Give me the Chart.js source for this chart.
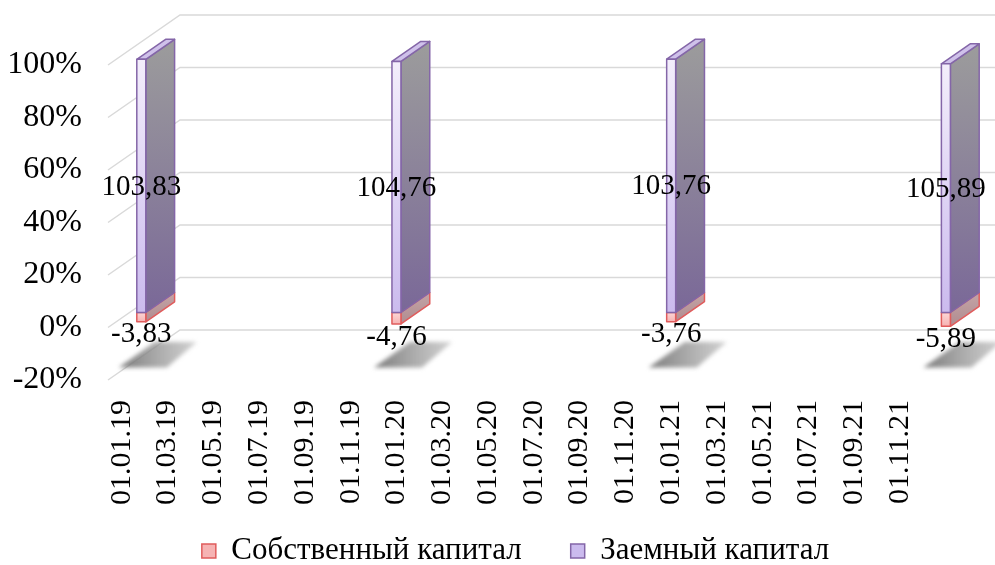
<!DOCTYPE html>
<html>
<head>
<meta charset="utf-8">
<script src="https://cdn.jsdelivr.net/npm/chart.js@4.4.0/dist/chart.umd.min.js"></script>
<style>
  html, body { margin: 0; padding: 0; background: #fff; }
  #wrap { width: 995px; height: 565px; }
</style>
</head>
<body>
<div id="wrap"><canvas id="chart"></canvas></div>
<script>
const barDates = ['01.01.19', '01.01.20', '01.01.21', '01.01.22'];
const ownCapital = [-3.83, -4.76, -3.76, -5.89];
const borrowedCapital = [103.83, 104.76, 103.76, 105.89];
const seriesNames = ['Собственный капитал', 'Заемный капитал'];
const axisDates = [
  '01.01.19', '01.03.19', '01.05.19', '01.07.19', '01.09.19', '01.11.19',
  '01.01.20', '01.03.20', '01.05.20', '01.07.20', '01.09.20', '01.11.20',
  '01.01.21', '01.03.21', '01.05.21', '01.07.21', '01.09.21', '01.11.21', '01.01.22',
];
const yTicks = [-20, 0, 20, 40, 60, 80, 100];

const FONT = "'Liberation Serif', 'Times New Roman', serif";
const GRID = '#d9d9d9';
const DEPTH = { dx: 72, dy: -50 };
const BAR_FRONT = 0.3;
const BAR_BACK = 0.7;
const FRONT_BOTTOM = 380;
const X_AXIS_H = 130;
const LEGEND_FONT = 31;
const LEGEND_PAD = 49;
const LEGEND_MID = 551;
const LEGEND_H = LEGEND_FONT + LEGEND_PAD + 10;
const PAD_BOTTOM = 565 - FRONT_BOTTOM - X_AXIS_H - LEGEND_H;

const SKIN = [
  { front: ['#fcd6d6', '#f6b3b3'], side: ['#c4a4a6', '#b08c90'], top: '#f2b4b4', edge: '#e05c5c' },
  { front: ['#f3eefb', '#cbbbee'], side: ['#9c9c9c', '#7a6898'], top: '#cfc1ea', edge: '#8466a8' },
];

const total = (i) => Math.abs(ownCapital[i]) + Math.abs(borrowedCapital[i]);
const asPoints = (vals) => vals.map((v, i) => ({ x: axisDates.indexOf(barDates[i]), y: (v / total(i)) * 100 }));
const fmt = (v) => v.toFixed(2).replace('.', ',');

function vGrad(ctx, y0, y1, c) {
  const g = ctx.createLinearGradient(0, y0, 0, y1);
  g.addColorStop(0, c[0]);
  g.addColorStop(1, c[1]);
  return g;
}

function poly(ctx, pts, fill) {
  ctx.beginPath();
  ctx.moveTo(pts[0][0], pts[0][1]);
  pts.slice(1).forEach((p) => ctx.lineTo(p[0], p[1]));
  ctx.closePath();
  ctx.fillStyle = fill;
  ctx.fill();
  ctx.stroke();
}

// front face of a bar, pushed back to its depth and kept off the side wall
function faceBox(chart, el) {
  const a = chart.chartArea;
  const w = el.width;
  const left = Math.max(el.x - w / 2, a.left + DEPTH.dx * BAR_FRONT + w * 0.8);
  const sy = DEPTH.dy * BAR_FRONT;
  return { left, right: left + w, top: Math.min(el.y, el.base) + sy, bottom: Math.max(el.y, el.base) + sy };
}

function drawBlock(ctx, b, skin, withTop) {
  const ddx = DEPTH.dx * (BAR_BACK - BAR_FRONT);
  const ddy = DEPTH.dy * (BAR_BACK - BAR_FRONT);
  ctx.lineWidth = 1.5;
  ctx.lineJoin = 'round';
  ctx.strokeStyle = skin.edge;
  poly(ctx, [[b.right, b.top], [b.right + ddx, b.top + ddy], [b.right + ddx, b.bottom + ddy], [b.right, b.bottom]],
    vGrad(ctx, b.top + ddy, b.bottom, skin.side));
  if (withTop) {
    poly(ctx, [[b.left, b.top], [b.left + ddx, b.top + ddy], [b.right + ddx, b.top + ddy], [b.right, b.top]], skin.top);
  }
  poly(ctx, [[b.left, b.top], [b.right, b.top], [b.right, b.bottom], [b.left, b.bottom]],
    vGrad(ctx, b.top, b.bottom, skin.front));
}

const depth3d = {
  id: 'depth3d',
  afterLayout(chart) {
    // the tall rotated date labels need room, so the legend row is moved up over their box
    const lg = chart.legend;
    if (!lg) return;
    const shift = LEGEND_MID - LEGEND_FONT / 2 - (lg.top + LEGEND_PAD);
    lg.top += shift;
    lg.bottom += shift;
  },
  beforeDatasetsDraw(chart) {
    const { ctx, chartArea: a, scales: { y } } = chart;
    ctx.save();
    ctx.strokeStyle = GRID;
    ctx.lineWidth = 1.5;
    yTicks.forEach((v) => {
      const py = y.getPixelForValue(v);
      ctx.beginPath();
      ctx.moveTo(a.left, py);
      ctx.lineTo(a.left + DEPTH.dx, py + DEPTH.dy);
      ctx.lineTo(a.right + DEPTH.dx, py + DEPTH.dy);
      ctx.stroke();
    });

    // soft shadows on the floor
    const floor = y.getPixelForValue(y.min);
    const fy = (d) => floor + DEPTH.dy * d;
    chart.getDatasetMeta(1).data.forEach((el) => {
      const l = faceBox(chart, el).left;
      const g = ctx.createLinearGradient(l - 18, 0, l + 60, 0);
      g.addColorStop(0, 'rgba(115,115,115,0.95)');
      g.addColorStop(1, 'rgba(170,170,170,0.55)');
      ctx.filter = 'blur(2px)';
      ctx.beginPath();
      ctx.moveTo(l - 18, fy(0.25));
      ctx.lineTo(l + 30, fy(0.25));
      ctx.lineTo(l + 60, fy(0.76));
      ctx.lineTo(l + 18, fy(0.76));
      ctx.closePath();
      ctx.fillStyle = g;
      ctx.fill();
      ctx.filter = 'none';
    });
    ctx.restore();
  },
  afterDatasetsDraw(chart) {
    const { ctx } = chart;
    ctx.save();
    const own = chart.getDatasetMeta(0).data;
    const borrowed = chart.getDatasetMeta(1).data;
    borrowed.forEach((el, i) => {
      const bo = faceBox(chart, own[i]);
      const bb = faceBox(chart, el);
      drawBlock(ctx, bo, SKIN[0], false);
      drawBlock(ctx, bb, SKIN[1], true);

      ctx.font = `29px ${FONT}`;
      ctx.fillStyle = '#000';
      ctx.textAlign = 'center';
      ctx.textBaseline = 'middle';
      ctx.fillText(fmt(borrowedCapital[i]), (bb.left + bb.right) / 2, (bb.top + bb.bottom) / 2 + 1);
      ctx.fillText(fmt(ownCapital[i]), (bo.left + bo.right) / 2, bo.bottom + 13);
    });
    ctx.restore();
  },
};

new Chart(document.getElementById('chart'), {
  type: 'bar',
  data: {
    datasets: [
      { label: seriesNames[0], data: asPoints(ownCapital), backgroundColor: 'rgba(0,0,0,0)', borderWidth: 0, barThickness: 9 },
      { label: seriesNames[1], data: asPoints(borrowedCapital), backgroundColor: 'rgba(0,0,0,0)', borderWidth: 0, barThickness: 9 },
    ],
  },
  options: {
    responsive: true,
    maintainAspectRatio: false,
    animation: false,
    layout: { padding: { top: 65, right: 72, bottom: PAD_BOTTOM, left: 0 } },
    plugins: {
      tooltip: { enabled: false },
      legend: {
        position: 'bottom',
        fullSize: false,
        labels: {
          boxWidth: 14,
          boxHeight: 14,
          padding: LEGEND_PAD,
          color: '#000',
          font: { family: FONT, size: LEGEND_FONT },
          generateLabels: () => seriesNames.map((text, i) => ({
            text,
            fillStyle: SKIN[i].front[1],
            strokeStyle: SKIN[i].edge,
            lineWidth: 1.5,
            hidden: false,
            datasetIndex: i,
          })),
        },
      },
    },
    scales: {
      x: {
        type: 'linear',
        stacked: true,
        offset: false,
        min: -0.3,
        max: 17.5,
        grid: { display: false, drawTicks: false, offset: false },
        border: { display: false },
        afterBuildTicks: (s) => {
          s.ticks = axisDates.map((_, i) => ({ value: i })).filter((t) => t.value <= s.max);
        },
        afterFit: (s) => {
          s.height = X_AXIS_H;
          s.paddingLeft = 0;
          s.paddingRight = 0;
        },
        ticks: {
          autoSkip: false,
          minRotation: 90,
          maxRotation: 90,
          padding: 20,
          color: '#000',
          font: { family: FONT, size: 30 },
          callback: (v) => axisDates[v],
        },
      },
      y: {
        stacked: true,
        min: yTicks[0],
        max: yTicks[yTicks.length - 1],
        grid: { display: false, drawTicks: false },
        border: { display: false },
        afterFit: (s) => { s.width = 108; },
        ticks: {
          stepSize: 20,
          padding: 26,
          color: '#000',
          font: { family: FONT, size: 32 },
          callback: (v) => `${v}%`,
        },
      },
    },
  },
  plugins: [depth3d],
});
</script>
</body>
</html>
